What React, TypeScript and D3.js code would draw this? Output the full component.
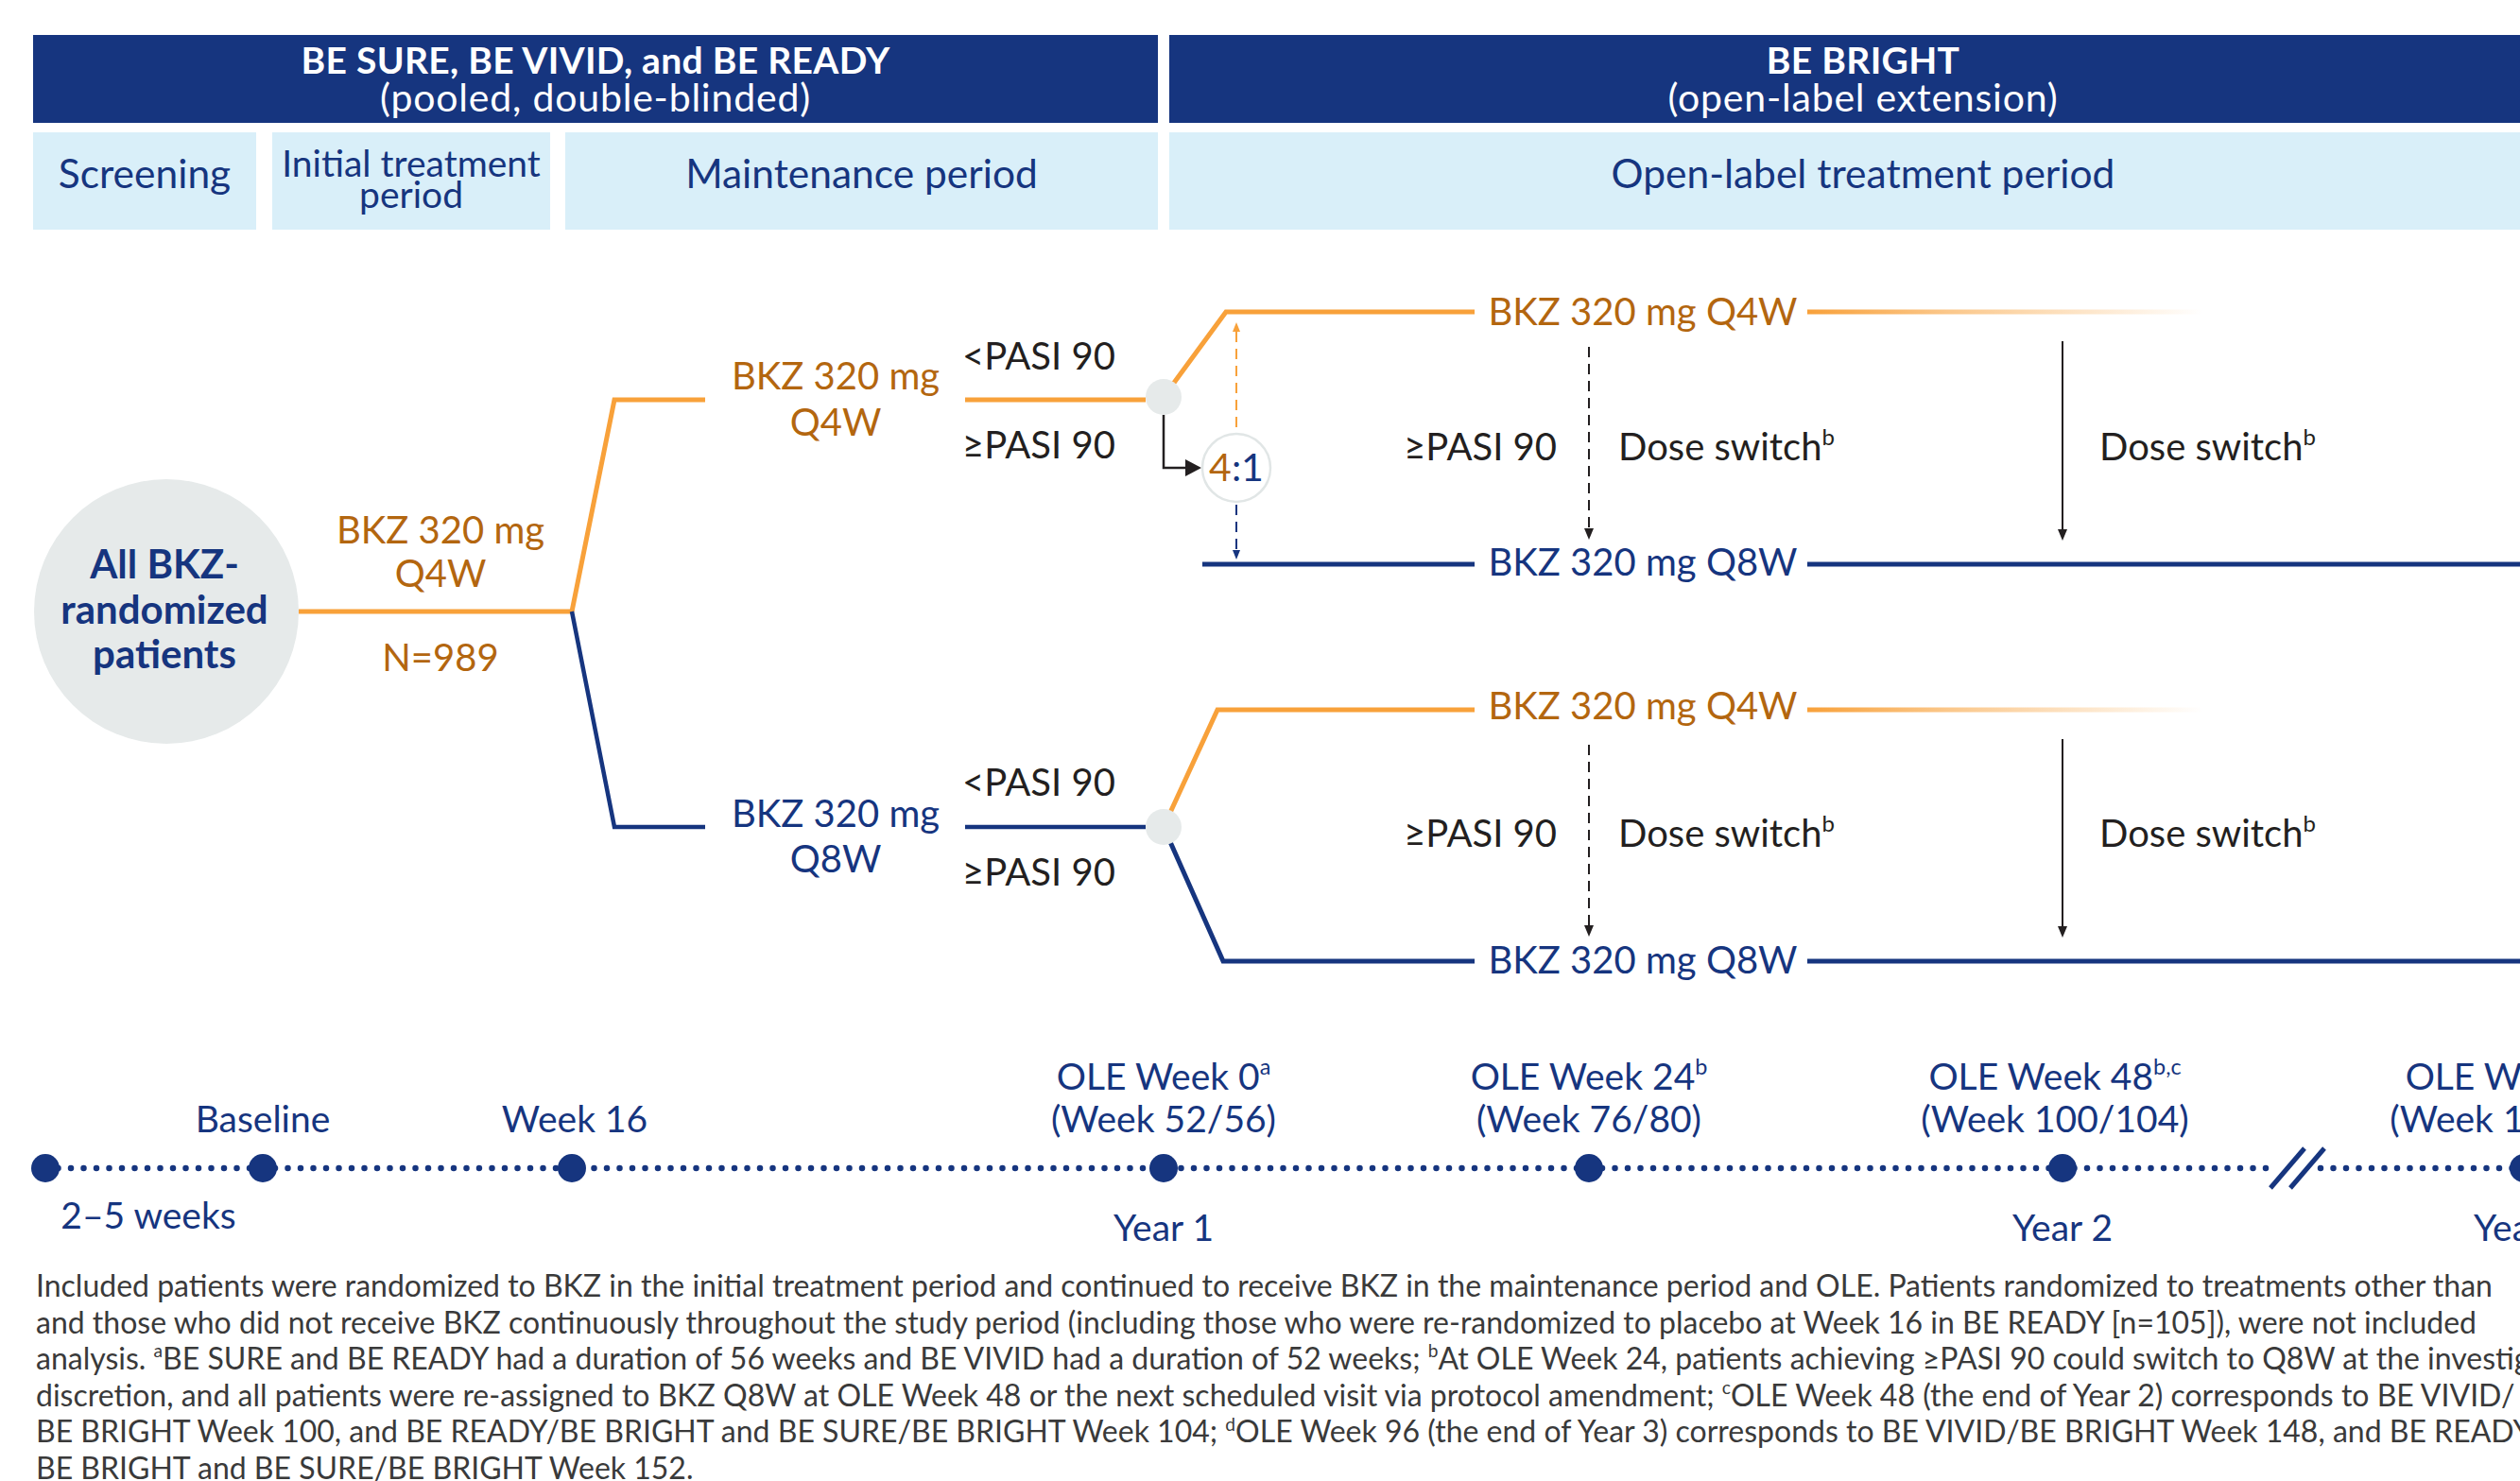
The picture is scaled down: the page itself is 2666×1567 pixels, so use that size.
import React from 'react'
import * as d3 from 'd3'

// ---- data ----
const studyTitles = ['BE SURE, BE VIVID, and BE READY', 'BE BRIGHT']
const studySubtitles = ['(pooled, double-blinded)', '(open-label extension)']
const periodLabels = [['Screening'], ['Initial treatment', 'period'], ['Maintenance period'], ['Open-label treatment period']]

const populationLabel = ['All BKZ-', 'randomized', 'patients']
const totalN = 989
const doseQ4W = 'BKZ 320 mg Q4W'
const doseQ8W = 'BKZ 320 mg Q8W'
const responseLabels = ['<PASI 90', '≥PASI 90']
const ratio = ['4', ':1']
const switchLabel = 'Dose switch{b}'

// timeline (weeks from baseline)
const milestoneWeeks = [-5, 0, 16, 52, 76, 100, 148]
const milestoneLabels = [
  [],
  ['Baseline'],
  ['Week 16'],
  ['OLE Week 0{a}', '(Week 52/56)'],
  ['OLE Week 24{b}', '(Week 76/80)'],
  ['OLE Week 48{b,c}', '(Week 100/104)'],
  ['OLE Week 96{d}', '(Week 148/152)'],
]
const screeningLabel = '2–5 weeks'
const yearWeeks = [52, 100, 148]
const yearLabels = ['Year 1', 'Year 2', 'Year 3']

const footnotes = [
  'Included patients were randomized to BKZ in the initial treatment period and continued to receive BKZ in the maintenance period and OLE. Patients randomized to treatments other than',
  'and those who did not receive BKZ continuously throughout the study period (including those who were re-randomized to placebo at Week 16 in BE READY [n=105]), were not included',
  'analysis. {a}BE SURE and BE READY had a duration of 56 weeks and BE VIVID had a duration of 52 weeks; {b}At OLE Week 24, patients achieving ≥PASI 90 could switch to Q8W at the investigator\'s',
  'discretion, and all patients were re-assigned to BKZ Q8W at OLE Week 48 or the next scheduled visit via protocol amendment; {c}OLE Week 48 (the end of Year 2) corresponds to BE VIVID/',
  'BE BRIGHT Week 100, and BE READY/BE BRIGHT and BE SURE/BE BRIGHT Week 104; {d}OLE Week 96 (the end of Year 3) corresponds to BE VIVID/BE BRIGHT Week 148, and BE READY/',
  'BE BRIGHT and BE SURE/BE BRIGHT Week 152.',
]

// ---- style / layout ----
const W = 2666
const H = 1567
const NAVY = '#16357f'
const ORANGE = '#f8a13a'
const ORANGE_TXT = '#b3660f'
const GRAY = '#e6eaea'
const LIGHT = '#d9eff9'
const INK = '#231f20'
const FONT = 'Lato, "Open Sans", sans-serif'
const FS = 40

const studyX = [[35, 1225], [1237, 2705]]
const periodX = [[35, 271], [288, 582], [598, 1225], [1237, 2705]]
const periodFont = [42.5, 39, 42.5, 42.5]
const milestoneX = [48, 278, 605, 1231, 1681, 2182, 2670]
const milestoneLabelShift = [0, 0, 3, 0, 0, -8, 0]

const wk = d3.scaleLinear().domain(milestoneWeeks).range(milestoneX)

const Y = { main: 647, m4: 423, m8: 875, o4a: 330, o8a: 597, o4b: 751, o8b: 1017, tl: 1236 }

function rich(text: string, size: number) {
  const parts = text.split(/\{([^}]*)\}/)
  const shift = size * 0.4
  let raised = false
  const nodes: React.ReactNode[] = []
  parts.forEach((p, i) => {
    if (i % 2 === 1) {
      nodes.push(<tspan key={i} dy={raised ? 0 : -shift} fontSize={size * 0.6}>{p}</tspan>)
      raised = true
    } else if (p) {
      nodes.push(<tspan key={i} dy={raised ? shift : 0}>{p}</tspan>)
      raised = false
    }
  })
  return nodes
}

const line = d3.line()

function Arrow({ x, y1, y2, color, dashed, head = 12, half = 5, width = 2 }:
  { x: number, y1: number, y2: number, color: string, dashed?: boolean, head?: number, half?: number, width?: number }) {
  const dir = y2 > y1 ? 1 : -1
  const base = y2 - dir * head
  return (
    <g>
      <line x1={x} x2={x} y1={y1} y2={base} stroke={color} strokeWidth={width} strokeDasharray={dashed ? '11 7' : undefined} />
      <path d={line([[x - half, base], [x + half, base], [x, y2]]) + 'Z'} fill={color} />
    </g>
  )
}

export default function App() {
  const split = wk(16)
  const dotX = wk(52)
  const dotR = 19
  const mCorner = split + 45
  const mGap = [746, 1021]
  const mLabelX = 884
  const oGap = [1560, 1912]
  const oLabelX = 1738
  const fadeEnd = 2330
  const ratioC = { x: dotX + 77, y: 495, r: 36 }
  const upDot = Y.m4 - 3
  const loDot = Y.m8
  const switchBaselines = [487, 896]

  const lbl = (x: number, y: number, t: string, fill: string, anchor = 'middle', size = FS, weight = 400) => (
    <text x={x} y={y} fill={fill} textAnchor={anchor} fontSize={size} fontWeight={weight}>{rich(t, size)}</text>
  )

  return (
    <svg width={W} height={H} style={{ position: 'fixed', left: 0, top: 0, background: '#fff' }} fontFamily={FONT}>
      <defs>
        <linearGradient id="fade" x1="0" x2="1" y1="0" y2="0">
          <stop offset="0" stopColor={ORANGE} stopOpacity={1} />
          <stop offset="0.35" stopColor={ORANGE} stopOpacity={0.6} />
          <stop offset="1" stopColor={ORANGE} stopOpacity={0} />
        </linearGradient>
      </defs>

      {/* study headers */}
      {studyTitles.map((t, i) => {
        const [a, b] = studyX[i]
        return (
          <g key={t}>
            <rect x={a} y={37} width={b - a} height={93} fill={NAVY} />
            <text x={(a + b) / 2} y={78} fill="#fff" textAnchor="middle" fontSize={39} fontWeight={700} letterSpacing={0.3}>{t}</text>
            <text x={(a + b) / 2} y={118} fill="#fff" textAnchor="middle" fontSize={41} letterSpacing={0.8}>{studySubtitles[i]}</text>
          </g>
        )
      })}

      {/* periods */}
      {periodLabels.map((lines, i) => {
        const [a, b] = periodX[i]
        const y0 = lines.length > 1 ? 187 : 199
        return (
          <g key={i}>
            <rect x={a} y={140} width={b - a} height={103} fill={LIGHT} />
            {lines.map((l, j) => (
              <text key={j} x={(a + b) / 2} y={y0 + j * 33} fill={NAVY} textAnchor="middle" fontSize={periodFont[i]}>{l}</text>
            ))}
          </g>
        )
      })}

      {/* population */}
      <circle cx={176} cy={Y.main} r={140} fill={GRAY} />
      {populationLabel.map((l, j) => (
        <text key={l} x={174} y={612 + j * 47.5} fill={NAVY} textAnchor="middle" fontSize={42} fontWeight={700}>{l}</text>
      ))}
      <path d={line([[316, Y.main], [split, Y.main]])!} stroke={ORANGE} strokeWidth={5} fill="none" />
      {lbl(466, 575, 'BKZ 320 mg', ORANGE_TXT)}
      {lbl(466, 621, 'Q4W', ORANGE_TXT)}
      {lbl(466, 710, `N=${totalN}`, ORANGE_TXT)}

      {/* maintenance arms */}
      <path d={line([[split, Y.main], [mCorner, Y.m4], [mGap[0], Y.m4]])!} stroke={ORANGE} strokeWidth={5} fill="none" />
      <path d={line([[mGap[1], Y.m4], [dotX - dotR, Y.m4]])!} stroke={ORANGE} strokeWidth={5} fill="none" />
      <path d={line([[split, Y.main], [mCorner, Y.m8], [mGap[0], Y.m8]])!} stroke={NAVY} strokeWidth={4.5} fill="none" />
      <path d={line([[mGap[1], Y.m8], [dotX - dotR, Y.m8]])!} stroke={NAVY} strokeWidth={4.5} fill="none" />
      {lbl(mLabelX, Y.m4 - 11, 'BKZ 320 mg', ORANGE_TXT)}
      {lbl(mLabelX, Y.m4 + 38, 'Q4W', ORANGE_TXT)}
      {lbl(mLabelX, Y.m8, 'BKZ 320 mg', NAVY)}
      {lbl(mLabelX, Y.m8 + 48, 'Q8W', NAVY)}
      {lbl(1018, Y.m4 - 32, responseLabels[0], INK, 'start')}
      {lbl(1018, Y.m4 + 62, responseLabels[1], INK, 'start')}
      {lbl(1018, Y.m8 - 33, responseLabels[0], INK, 'start')}
      {lbl(1018, Y.m8 + 62, responseLabels[1], INK, 'start')}

      {/* OLE arms, upper (from Q4W) */}
      <path d={line([[dotX, upDot], [dotX + 66, Y.o4a], [oGap[0], Y.o4a]])!} stroke={ORANGE} strokeWidth={5} fill="none" />
      <rect x={oGap[1]} y={Y.o4a - 2.5} width={fadeEnd - oGap[1]} height={5} fill="url(#fade)" />
      <path d={line([[ratioC.x - 36, Y.o8a], [oGap[0], Y.o8a]])!} stroke={NAVY} strokeWidth={5} fill="none" />
      <path d={line([[oGap[1], Y.o8a], [W, Y.o8a]])!} stroke={NAVY} strokeWidth={5} fill="none" />
      {lbl(oLabelX, Y.o4a + 14, doseQ4W, ORANGE_TXT)}
      {lbl(oLabelX, Y.o8a + 12, doseQ8W, NAVY)}

      {/* OLE arms, lower (from Q8W) */}
      <path d={line([[dotX, loDot], [dotX + 57, Y.o4b], [oGap[0], Y.o4b]])!} stroke={ORANGE} strokeWidth={5} fill="none" />
      <rect x={oGap[1]} y={Y.o4b - 2.5} width={fadeEnd - oGap[1]} height={5} fill="url(#fade)" />
      <path d={line([[dotX, loDot], [dotX + 63, Y.o8b], [oGap[0], Y.o8b]])!} stroke={NAVY} strokeWidth={5} fill="none" />
      <path d={line([[oGap[1], Y.o8b], [W, Y.o8b]])!} stroke={NAVY} strokeWidth={5} fill="none" />
      {lbl(oLabelX, Y.o4b + 10, doseQ4W, ORANGE_TXT)}
      {lbl(oLabelX, Y.o8b + 13, doseQ8W, NAVY)}

      {/* decision nodes */}
      <circle cx={dotX} cy={upDot} r={dotR} fill={GRAY} />
      <circle cx={dotX} cy={loDot} r={dotR} fill={GRAY} />

      {/* re-randomization 4:1 */}
      <path d={line([[dotX, upDot + dotR], [dotX, ratioC.y], [ratioC.x - ratioC.r - 16, ratioC.y]])!} stroke={INK} strokeWidth={2.5} fill="none" />
      <path d={line([[ratioC.x - ratioC.r - 18, ratioC.y - 9], [ratioC.x - ratioC.r - 1, ratioC.y], [ratioC.x - ratioC.r - 18, ratioC.y + 9]])! + 'Z'} fill={INK} />
      <circle cx={ratioC.x} cy={ratioC.y} r={ratioC.r} fill="#fff" stroke="#e1e6e6" strokeWidth={2.5} />
      <text x={ratioC.x} y={ratioC.y + 14} textAnchor="middle" fontSize={41}>
        <tspan fill={ORANGE_TXT}>{ratio[0]}</tspan><tspan fill={NAVY}>{ratio[1]}</tspan>
      </text>
      <Arrow x={ratioC.x} y1={ratioC.y - ratioC.r - 7} y2={Y.o4a + 11} color={ORANGE} dashed head={10} half={4} />
      <Arrow x={ratioC.x} y1={ratioC.y + ratioC.r + 3} y2={Y.o8a - 5} color={NAVY} dashed head={10} half={4} />

      {/* dose switches */}
      {[[Y.o4a, Y.o8a], [Y.o4b, Y.o8b]].map(([top, bot], i) => (
        <g key={i}>
          <Arrow x={wk(76)} y1={top + 37} y2={bot - 26} color={INK} dashed />
          <Arrow x={wk(100)} y1={top + 31} y2={bot - 25} color={INK} />
          {lbl(wk(76) - 34, switchBaselines[i], responseLabels[1], INK, 'end')}
          {lbl(wk(76) + 31, switchBaselines[i], switchLabel, INK, 'start')}
          {lbl(wk(100) + 39, switchBaselines[i], switchLabel, INK, 'start')}
        </g>
      ))}

      {/* timeline */}
      <path d={line([[wk(-5), Y.tl], [2408, Y.tl]])!} stroke={NAVY} strokeWidth={6.5} strokeLinecap="round" strokeDasharray="0 13.5" />
      <path d={line([[2455, Y.tl], [wk(148), Y.tl]])!} stroke={NAVY} strokeWidth={6.5} strokeLinecap="round" strokeDasharray="0 13.5" />
      {[0, 21].map(dx => (
        <path key={dx} d={line([[2402 + dx, Y.tl + 21], [2438 + dx, Y.tl - 21]])!} stroke={NAVY} strokeWidth={5} />
      ))}
      {milestoneWeeks.map((w, i) => (
        <g key={w}>
          <circle cx={wk(w)} cy={Y.tl} r={15} fill={NAVY} />
          {milestoneLabels[i].map((l, j) => (
            <text key={j} x={wk(w) + milestoneLabelShift[i]} y={1198 - (milestoneLabels[i].length - 1 - j) * 45} fill={NAVY} textAnchor="middle" fontSize={39}>{rich(l, 39)}</text>
          ))}
        </g>
      ))}
      <text x={(wk(-5) + wk(0)) / 2 - 6} y={1300} fill={NAVY} textAnchor="middle" fontSize={39}>{screeningLabel}</text>
      {yearWeeks.map((w, i) => (
        <text key={w} x={wk(w)} y={1313} fill={NAVY} textAnchor="middle" fontSize={39}>{yearLabels[i]}</text>
      ))}

      {/* footnotes */}
      {footnotes.map((f, i) => (
        <text key={i} x={38} y={1372 + i * 38.6} fill="#3a3a3a" fontSize={32}>{rich(f, 32)}</text>
      ))}
    </svg>
  )
}
